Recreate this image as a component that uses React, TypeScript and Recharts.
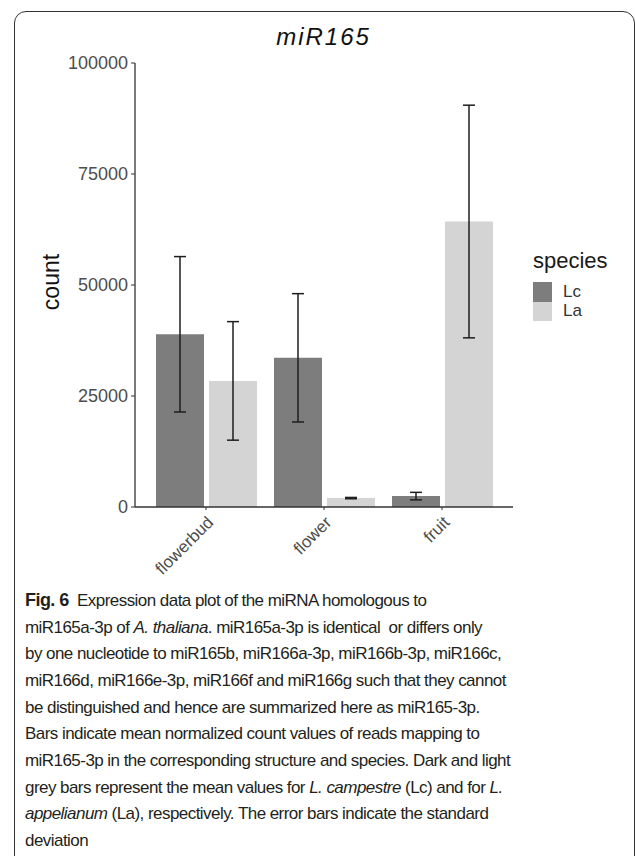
import { BarChart, Bar, XAxis, YAxis, ErrorBar, Legend, Label } from "recharts"

// miR165 normalized counts per tissue, mean and standard deviation
const tissues = ["flowerbud", "flower", "fruit"]
const species = ["Lc", "La"]
const lcMean = [38900, 33600, 2450]
const lcSd = [17500, 14450, 850]
const laMean = [28400, 2000, 64300]
const laSd = [13350, 150, 26200]
const yTicks = [0, 25000, 50000, 75000, 100000]

const data = tissues.map((t, i) => ({
  tissue: t,
  Lc: lcMean[i],
  LcSd: lcSd[i],
  La: laMean[i],
  LaSd: laSd[i],
}))

const AXIS_FONT = "'Liberation Sans', Arial, sans-serif"

const AngledTick = ({ x, y, payload }: any) => (
  <g transform={`translate(${x},${y + 5})`}>
    <text
      transform="rotate(-45)"
      textAnchor="end"
      dominantBaseline="hanging"
      fontSize={17}
      fontFamily={AXIS_FONT}
      fill="#4d4d4d"
    >
      {payload.value}
    </text>
  </g>
)

const SpeciesLegend = ({ payload }: any) => {
  const items = [...(payload || [])].sort((a: any, b: any) => species.indexOf(a.value) - species.indexOf(b.value))
  return (
    <div style={{ fontFamily: AXIS_FONT, color: "#1a1a1a" }}>
      <div style={{ fontSize: 22, lineHeight: "26px", marginBottom: 8 }}>species</div>
      {items.map((p: any) => (
        <div key={p.value} style={{ display: "flex", alignItems: "center", height: 19.5 }}>
          <span style={{ display: "inline-block", width: 19, height: 19.5, background: p.color }} />
          <span style={{ marginLeft: 11, fontSize: 17, color: "#333" }}>{p.value}</span>
        </div>
      ))}
    </div>
  )
}

export default function App() {
  return (
    <div style={{ position: "absolute", left: 0, top: 0, width: 635, height: 856, background: "#fff", overflow: "hidden" }}>
      {/* frame around the figure */}
      <div
        style={{
          position: "absolute",
          left: 14,
          top: 11,
          width: 621,
          height: 900,
          border: "1.2px solid #333",
          borderRadius: 12,
          boxSizing: "border-box",
        }}
      />

      <div
        style={{
          position: "absolute",
          left: 0,
          width: 647,
          top: 23,
          textAlign: "center",
          fontFamily: AXIS_FONT,
          fontStyle: "italic",
          fontSize: 24,
          letterSpacing: 2,
          color: "#111",
        }}
      >
        miR165
      </div>

      <div style={{ position: "absolute", left: 0, top: 0 }}>
        <BarChart
          width={635}
          height={580}
          data={data}
          margin={{ top: 63, right: 122, left: 65, bottom: 13 }}
          barSize={48}
          barGap={5}
        >
          <XAxis
            dataKey="tissue"
            padding={{ left: 12, right: 12 }}
            height={60}
            tick={<AngledTick />}
            tickSize={3}
            tickMargin={0}
            axisLine={{ stroke: "#333", strokeWidth: 1.3 }}
            tickLine={{ stroke: "#333" }}
            interval={0}
          />
          <YAxis
            width={70}
            domain={[0, 100000]}
            ticks={yTicks}
            interval={0}
            tickSize={4}
            tickMargin={3}
            tick={{ fill: "#4d4d4d", fontSize: 18, fontFamily: AXIS_FONT }}
            axisLine={{ stroke: "#333", strokeWidth: 1.3 }}
            tickLine={{ stroke: "#333" }}
          >
            <Label
              content={({ viewBox }: any) => (
                <text
                  x={51}
                  y={viewBox.y + viewBox.height / 2 - 3}
                  transform={`rotate(-90, 51, ${viewBox.y + viewBox.height / 2 - 3})`}
                  textAnchor="middle"
                  dominantBaseline="central"
                  fontSize={23}
                  fontFamily={AXIS_FONT}
                  fill="#111"
                >
                  count
                </text>
              )}
            />
          </YAxis>
          <Legend
            layout="horizontal"
            verticalAlign="middle"
            align="center"
            content={<SpeciesLegend />}
            wrapperStyle={{ position: "absolute", left: 533, top: 248, width: 100, height: 80 }}
          />
          <Bar dataKey="Lc" name="Lc" fill="#7d7d7d" isAnimationActive={false}>
            <ErrorBar dataKey="LcSd" width={6} stroke="#1e1e1e" strokeWidth={1.5} direction="y" isAnimationActive={false} />
          </Bar>
          <Bar dataKey="La" name="La" fill="#d4d4d4" isAnimationActive={false}>
            <ErrorBar dataKey="LaSd" width={6} stroke="#1e1e1e" strokeWidth={1.5} direction="y" isAnimationActive={false} />
          </Bar>
        </BarChart>
      </div>

      <div
        style={{
          position: "absolute",
          left: 25,
          top: 587,
          fontFamily: "'Liberation Sans', Arial, sans-serif",
          fontSize: 17,
          letterSpacing: -0.55,
          lineHeight: "26.67px",
          color: "#231f20",
          whiteSpace: "nowrap",
        }}
      >
        <div><b style={{ fontSize: 18 }}>Fig. 6</b>&nbsp; Expression data plot of the miRNA homologous to</div>
        <div>miR165a-3p of <i>A. thaliana</i>. miR165a-3p is identical&nbsp; or differs only</div>
        <div>by one nucleotide to miR165b, miR166a-3p, miR166b-3p, miR166c,</div>
        <div>miR166d, miR166e-3p, miR166f and miR166g such that they cannot</div>
        <div>be distinguished and hence are summarized here as miR165-3p.</div>
        <div>Bars indicate mean normalized count values of reads mapping to</div>
        <div>miR165-3p in the corresponding structure and species. Dark and light</div>
        <div>grey bars represent the mean values for <i>L. campestre</i> (Lc) and for <i>L.</i></div>
        <div><i>appelianum</i> (La), respectively. The error bars indicate the standard</div>
        <div>deviation</div>
      </div>
    </div>
  )
}
